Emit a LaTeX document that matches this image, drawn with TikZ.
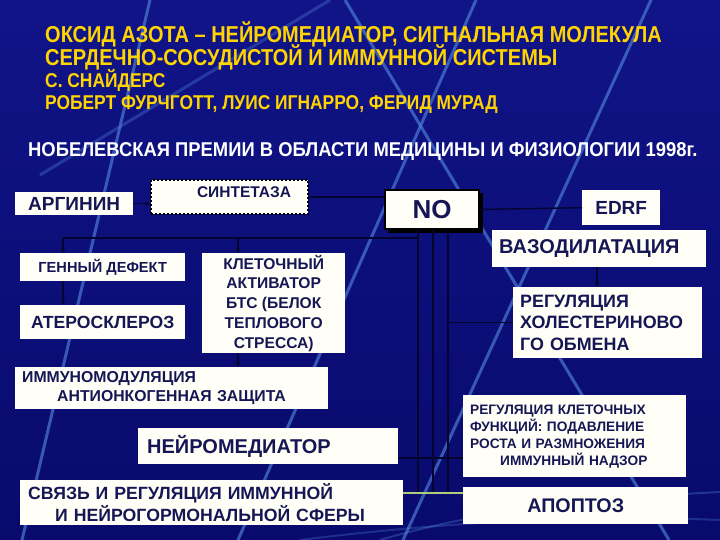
\documentclass[tikz,border=0pt]{standalone}
\usepackage{fontspec}
\setmainfont{Liberation Sans}
\newfontfamily\narrowfont[FakeStretch=0.87]{Liberation Sans}
\newfontfamily\nobelfont[FakeStretch=0.92]{Liberation Sans}
\usetikzlibrary{arrows.meta,calc}
\definecolor{bgtop}{RGB}{16,20,135}
\definecolor{bgbot}{RGB}{8,10,108}
\definecolor{navytext}{RGB}{22,22,85}
\definecolor{streak}{RGB}{80,130,215}
\definecolor{titleyel}{RGB}{255,212,0}
\definecolor{boxfill}{RGB}{255,255,248}
\definecolor{conncol}{RGB}{4,4,48}
\definecolor{greenline}{RGB}{175,205,120}
\newcommand{\fs}[2]{\fontsize{#1}{#2}\selectfont}
\begin{document}
\begin{tikzpicture}[x=1pt,y=-1pt,
  bx/.style n args={4}{at={(#1,#2)}, anchor=north west,
     minimum width={(#3-#1)*1pt}, minimum height={(#4-#2)*1pt}, inner sep=0pt},
  wbox/.style={fill=boxfill, text=navytext, font=\bfseries},
  conn/.style={draw=conncol, line width=1.4pt},
  arr/.style={conn, -{Stealth[length=5pt,width=4.5pt]}},
  bgline/.style={draw=streak, line width=3pt, opacity=0.65},
  ttl/.style={anchor=base west, text=titleyel, font=\narrowfont\bfseries, inner sep=0pt}]
% background
\shade[top color=bgtop, bottom color=bgbot] (0,0) rectangle (720,540);
\useasboundingbox (0,0) rectangle (720,540);
\draw[bgline] (150,0) -- (22,540);
\draw[bgline] (476,0) -- (238,540);
\draw[bgline] (345,0) -- (669,540);
\draw[bgline] (651,0) -- (403,540);
\draw[bgline, opacity=0.35] (40,175) -- (330,0);
\draw[bgline, line width=2pt, opacity=0.35] (380,540) .. controls (500,505) and (610,498) .. (720,492);
\draw[bgline, line width=2pt, opacity=0.3] (300,540) .. controls (460,520) and (600,515) .. (720,520);

% titles
\node[ttl, font=\narrowfont\bfseries\fs{23}{26}] (t1) at (45,43) {ОКСИД АЗОТА – НЕЙРОМЕДИАТОР, СИГНАЛЬНАЯ МОЛЕКУЛА};
\node[ttl, font=\narrowfont\bfseries\fs{23}{26}] (t2) at (45,66) {СЕРДЕЧНО-СОСУДИСТОЙ И ИММУННОЙ СИСТЕМЫ};
\node[ttl, font=\narrowfont\bfseries\fs{20}{23}] (t3) at (45,88) {С. СНАЙДЕРС};
\node[ttl, font=\narrowfont\bfseries\fs{20}{23}] (t4) at (45,110) {РОБЕРТ ФУРЧГОТТ, ЛУИС ИГНАРРО, ФЕРИД МУРАД};
\node[ttl, text=white, font=\nobelfont\bfseries\fs{20}{23}] (t5) at (28,157) {НОБЕЛЕВСКАЯ ПРЕМИИ В ОБЛАСТИ МЕДИЦИНЫ И ФИЗИОЛОГИИ 1998г.};

% bus coordinates
\coordinate (b1) at (418,493);
\coordinate (b2) at (433,493);
\coordinate (b3) at (448,493);
\coordinate (h1) at (63,238);
\coordinate (k1) at (238,238);
\coordinate (v1) at (597,0);
\coordinate (m1) at (0,458);
\coordinate (g1) at (0,493);

% boxes
\node[wbox, bx={15}{192}{133}{215}, font=\bfseries\fs{19}{22}] (arg) {АРГИНИН};
\node[wbox, bx={150}{179}{307}{213}, draw=black, line width=2pt, dash pattern=on 2pt off 2pt] (synt) {};
\node[text=navytext, font=\bfseries\fs{15.5}{18}, inner sep=0pt] (synttxt) at (244,192) {СИНТЕТАЗА};
\fill[black] (388,193) rectangle (483,233);
\node[wbox, bx={384}{189}{478}{228}, draw=black, line width=2pt, font=\bfseries\fs{26}{30}] (no) {NO};
\node[wbox, bx={582}{190}{660}{225}, font=\bfseries\fs{19}{22}] (edrf) {EDRF};
\node[wbox, bx={492}{230}{706}{267}, font=\bfseries\fs{20}{23}, align=left, text width=200pt, inner xsep=7pt] (vaz) {ВАЗОДИЛАТАЦИЯ};
\node[wbox, bx={20}{253}{185}{281}, font=\bfseries\fs{14.6}{17}] (gen) {ГЕННЫЙ ДЕФЕКТ};
\node[wbox, bx={20}{305}{185}{339}, font=\bfseries\fs{17.6}{20}] (ater) {АТЕРОСКЛЕРОЗ};
\node[wbox, bx={202}{253}{345}{353}, font=\bfseries\fs{15.6}{19.7}, align=center] (klet) {КЛЕТОЧНЫЙ\\АКТИВАТОР\\БТС (БЕЛОК\\ТЕПЛОВОГО\\СТРЕССА)};
\node[wbox, bx={513}{287}{702}{358}, font=\bfseries\fs{17.9}{21.7}, align=left, text width=175pt, inner xsep=7pt] (regh) {РЕГУЛЯЦИЯ\\ХОЛЕСТЕРИНОВО\\ГО ОБМЕНА};
\node[wbox, bx={15}{367}{328}{409}, font=\bfseries\fs{15.8}{19}, align=left, text width=299pt, inner xsep=7pt] (imm) {ИММУНОМОДУЛЯЦИЯ\\\hspace*{35pt}АНТИОНКОГЕННАЯ ЗАЩИТА};
\node[wbox, bx={463}{395}{686}{477}, font=\bfseries\fs{13.7}{17}, align=left, text width=209pt, inner xsep=7pt] (regk) {РЕГУЛЯЦИЯ КЛЕТОЧНЫХ\\ФУНКЦИЙ: ПОДАВЛЕНИЕ\\РОСТА И РАЗМНОЖЕНИЯ\\\hspace*{30pt}ИММУННЫЙ НАДЗОР};
\node[wbox, bx={138}{428}{398}{464}, font=\bfseries\fs{20}{23}, align=left, text width=242pt, inner xsep=9pt] (neir) {НЕЙРОМЕДИАТОР};
\node[wbox, bx={20}{480}{403}{525}, font=\bfseries\fs{17.7}{22}, align=left, text width=367pt, inner xsep=8pt] (svz) {СВЯЗЬ И РЕГУЛЯЦИЯ ИММУННОЙ\\\hspace*{27pt}И НЕЙРОГОРМОНАЛЬНОЙ СФЕРЫ};
\node[wbox, bx={463}{487}{688}{524}, font=\bfseries\fs{19.7}{23}] (apop) {АПОПТОЗ};

% connectors
\draw[arr] (arg.east) -- (arg.east -| synt.west);
\draw[conn] (synt.east) -- (synt.east -| no.west);
\draw[conn] (no.east) -- (edrf.west);
\draw[conn] (b1 |- no.south) -- (b1);
\draw[conn] (b2 |- no.south) -- (b2);
\draw[conn] (b3 |- no.south) -- (b3);
\draw[conn] (b1 |- h1) -- (h1);
\draw[arr] (h1) -- (h1 |- gen.north);
\draw[arr] (k1) -- (k1 |- klet.north);
\draw[arr] (gen.south -| h1) -- (ater.north -| h1);
\draw[arr] (klet.south -| k1) -- (imm.north -| k1);
\draw[arr] (vaz.south -| v1) -- (regh.north -| v1);
\draw[conn] (b3 |- regh.west) -- (regh.west);
\draw[conn] (neir.east |- m1) -- (regk.west |- m1);
\draw[draw=greenline, line width=2.2pt] (svz.east |- g1) -- (apop.west |- g1);
\end{tikzpicture}
\end{document}
